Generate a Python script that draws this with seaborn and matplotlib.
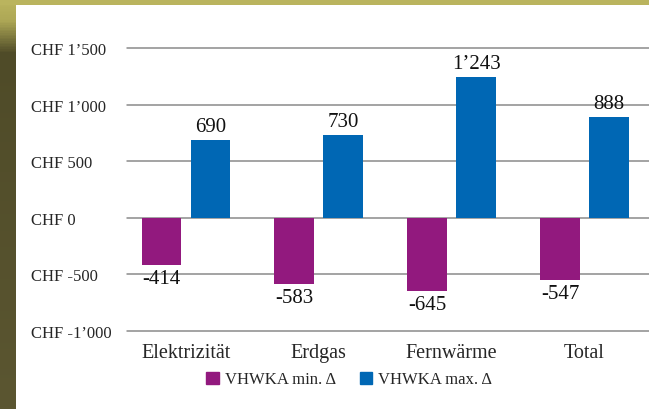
import numpy as np
import pandas as pd
import matplotlib
matplotlib.use("Agg")
import matplotlib.pyplot as plt
import seaborn as sns
from matplotlib.patches import Rectangle, Patch

# Daten
kategorien = ["Elektrizität", "Erdgas", "Fernwärme", "Total"]
delta_min = [-414, -583, -645, -547]
delta_max = [690, 730, 1243, 888]
serien = ["VHWKA min. Δ", "VHWKA max. Δ"]
y_ticks = [-1000, -500, 0, 500, 1000, 1500]
farben = ["#92197e", "#0067b4"]

df = pd.DataFrame({
    "Kategorie": kategorien * 2,
    "Serie": [serien[0]] * 4 + [serien[1]] * 4,
    "Wert": delta_min + delta_max,
})


def chf(v):
    s = f"{abs(v):,.0f}".replace(",", "’")
    return ("-" if v < 0 else "") + s


sns.set_theme(style="white")
plt.rcParams["font.family"] = ["Liberation Serif", "DejaVu Serif"]

fig = plt.figure(figsize=(6.49, 4.10), dpi=100)

# Hintergrund: olivfarbener Rahmen links und oben
bg = fig.add_axes([0, 0, 1, 1], zorder=-10)
grad = np.linspace(0, 1, 410).reshape(-1, 1)
cmap = matplotlib.colors.LinearSegmentedColormap.from_list(
    "olive", [(0, "#bab45e"), (0.05, "#aea856"), (0.13, "#4f4b28"), (1, "#5b5631")])
bg.imshow(grad, aspect="auto", cmap=cmap, extent=[0, 1, 0, 1], origin="upper")
bg.add_patch(Rectangle((0, 1 - 6 / 410), 1, 6 / 410, color="#bab45e", lw=0))
bg.add_patch(Rectangle((16 / 649, 0), 1, 1 - 6 / 410, color="white", lw=0))
bg.set_xlim(0, 1)
bg.set_ylim(0, 1)
bg.axis("off")

# y: -1010..1510 -> Gitterlinien bei -1000 und 1500 voll sichtbar
px = 56.6 / 500
top = 49 - 10 * px
bot = 332 + 10 * px
ax = fig.add_axes([127 / 649, 1 - bot / 410, (649 - 127) / 649, (bot - top) / 410])
ax.patch.set_alpha(0)

# Gitterlinien explizit
for yv in y_ticks:
    ax.axhline(yv, color="#8a8a8a", lw=1.1, zorder=0, clip_on=False)

sns.barplot(data=df, x="Kategorie", y="Wert", hue="Serie", palette=farben,
            width=0.737, gap=0.186, ax=ax, legend=False, saturation=1,
            linewidth=0, edgecolor="none", zorder=2)

for cont in ax.containers:
    ax.bar_label(cont, fmt=chf, padding=3, fontsize=15, color="#111111")

ax.set_xlim(-0.444, 3.486)
ax.set_ylim(-1010, 1510)
ax.set_yticks(y_ticks)
ax.set_yticklabels(["CHF " + chf(v) for v in y_ticks], ha="left", fontsize=12)
ax.tick_params(axis="y", length=0, pad=69)
ax.tick_params(axis="x", length=0, pad=8, labelsize=14.5)
ax.set_xlabel("")
ax.set_ylabel("")
ax.grid(False)
for s in ax.spines.values():
    s.set_visible(False)

handles = [Patch(color=c) for c in farben]
fig.legend(handles, serien, loc="center", bbox_to_anchor=(0.538, 0.072), ncol=2,
           frameon=False, fontsize=12, handlelength=0.75, handleheight=0.75,
           columnspacing=1.45, handletextpad=0.35)

fig.savefig("out.png", dpi=100)
